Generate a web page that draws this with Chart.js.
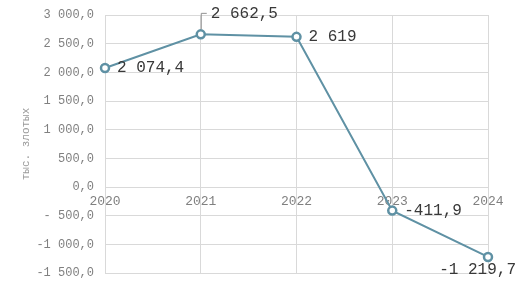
<!DOCTYPE html>
<html lang="ru">
<head>
    <meta charset="UTF-8">
    <title>Chart</title>
    <script src="https://cdn.jsdelivr.net/npm/chart.js"></script>
    <style>
        body {
            margin: 0;
            background: #ffffff;
        }
        .chart-container {
            width: 520px;
            height: 289px;
        }
    </style>
</head>
<body>
    <div class="chart-container">
        <canvas id="lineChart"></canvas>
    </div>

    <script>
        const years = ['2020', '2021', '2022', '2023', '2024'];
        const values = [2074.4, 2662.5, 2619, -411.9, -1219.7];
        const valueLabels = ['2 074,4', '2 662,5', '2 619', '-411,9', '-1 219,7'];
        const yTicks = [3000, 2500, 2000, 1500, 1000, 500, 0, -500, -1000, -1500];
        const yTickLabels = ['3 000,0', '2 500,0', '2 000,0', '1 500,0', '1 000,0', '500,0', '0,0', '- 500,0', '-1 000,0', '-1 500,0'];
        const yTitle = 'тыс. злотых';

        const mono = "'Liberation Mono', 'DejaVu Sans Mono', monospace";
        const lineColor = '#5f91a4';

        // draws the value labels next to each point
        const valueLabelPlugin = {
            id: 'valueLabels',
            afterDatasetsDraw(chart) {
                const ctx = chart.ctx;
                const pts = chart.getDatasetMeta(0).data;
                ctx.save();
                ctx.font = '16px ' + mono;
                ctx.fillStyle = '#383838';
                ctx.textBaseline = 'middle';
                pts.forEach((p, i) => {
                    const txt = valueLabels[i];
                    if (i === 1) {
                        // leader line going up from the point
                        ctx.strokeStyle = '#909090';
                        ctx.lineWidth = 1;
                        ctx.beginPath();
                        ctx.moveTo(p.x + 0.5, p.y - 5);
                        ctx.lineTo(p.x + 0.5, p.y - 21);
                        ctx.lineTo(p.x + 6, p.y - 21);
                        ctx.stroke();
                        ctx.textAlign = 'left';
                        ctx.fillText(txt, p.x + 10, p.y - 21);
                    } else if (i === values.length - 1) {
                        ctx.textAlign = 'right';
                        ctx.fillText(txt, p.x + 28, p.y + 13);
                    } else {
                        ctx.textAlign = 'left';
                        ctx.fillText(txt, p.x + 12, p.y);
                    }
                });
                ctx.restore();
            }
        };

        const ctx = document.getElementById('lineChart').getContext('2d');
        const lineChart = new Chart(ctx, {
            type: 'line',
            data: {
                labels: years,
                datasets: [{
                    data: values,
                    borderColor: lineColor,
                    borderWidth: 2,
                    backgroundColor: '#ffffff',
                    pointBorderColor: lineColor,
                    pointBackgroundColor: '#ffffff',
                    pointBorderWidth: 2.5,
                    pointRadius: 4,
                    tension: 0
                }]
            },
            options: {
                responsive: true,
                maintainAspectRatio: false,
                animation: false,
                layout: {
                    padding: { top: 15, right: 32, bottom: 16, left: 0 }
                },
                plugins: {
                    legend: { display: false },
                    tooltip: { enabled: false }
                },
                scales: {
                    x: {
                        position: { y: 0 },
                        offset: false,
                        grid: {
                            color: '#d9d9d9',
                            drawTicks: false
                        },
                        border: { color: '#d9d9d9' },
                        ticks: {
                            color: '#808080',
                            font: { family: mono, size: 13 },
                            padding: 7,
                            maxRotation: 0
                        }
                    },
                    y: {
                        min: -1500,
                        max: 3000,
                        afterBuildTicks(scale) {
                            scale.ticks = yTicks.map(v => ({ value: v }));
                        },
                        afterFit(scale) {
                            scale.width = 105;
                            // let the layout padding alone set top/bottom
                            scale.paddingTop = 0;
                            scale.paddingBottom = 0;
                        },
                        grid: {
                            color: '#d9d9d9',
                            drawTicks: false
                        },
                        border: { color: '#d9d9d9' },
                        ticks: {
                            color: '#808080',
                            font: { family: mono, size: 12 },
                            padding: 11,
                            callback(value) {
                                const i = yTicks.indexOf(value);
                                return i >= 0 ? yTickLabels[i] : '';
                            }
                        },
                        title: {
                            display: true,
                            text: yTitle,
                            color: '#999999',
                            font: { family: mono, size: 11 },
                            padding: { top: 19, bottom: 0 }
                        }
                    }
                }
            },
            plugins: [valueLabelPlugin]
        });
    </script>
</body>
</html>
